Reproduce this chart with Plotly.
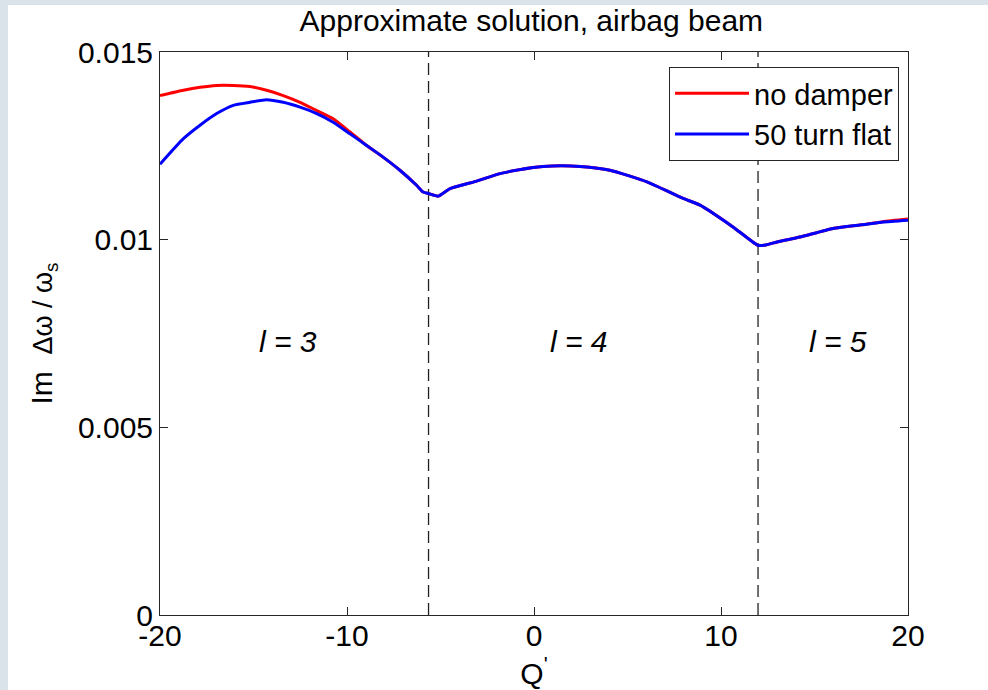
import plotly.graph_objects as go

# ---------------- data ----------------
q_blue = [-20.0, -18.75, -17.86, -16.97, -16.08, -15.19, -14.30, -13.41, -12.51, -11.62,
          -10.74, -9.84, -8.95, -8.07, -7.17, -6.28, -5.93, -5.64, -5.12, -4.49,
          -3.06, -1.82, -0.05, 0.48, 1.47, 2.46, 4.06, 6.04, 7.97, 8.88,
          10.64, 11.98, 12.40, 12.99, 14.22, 15.99, 17.77, 18.66, 20.0]
im_blue = [12.01, 12.69, 13.05, 13.36, 13.58, 13.66, 13.73, 13.66, 13.53, 13.36,
           13.13, 12.82, 12.51, 12.20, 11.85, 11.45, 11.27, 11.23, 11.16, 11.36,
           11.56, 11.76, 11.92, 11.95, 11.97, 11.95, 11.85, 11.54, 11.10, 10.92,
           10.34, 9.85, 9.86, 9.94, 10.07, 10.30, 10.41, 10.47, 10.52]

q_red = [-20.0, -18.75, -17.86, -16.97, -16.08, -15.19, -14.30, -13.41, -12.51, -11.62,
         -10.74, -9.84, -8.95, -8.07, -7.17, -6.28, -5.93, -5.64, -5.12, -4.49,
         -3.06, -1.82, -0.05, 0.48, 1.47, 2.46, 4.06, 6.04, 7.97, 8.88,
         10.64, 11.98, 12.40, 12.99, 14.22, 15.99, 17.77, 18.66, 20.0]
im_red = [13.84, 13.98, 14.06, 14.11, 14.11, 14.08, 13.98, 13.84, 13.66, 13.44,
          13.22, 12.87, 12.51, 12.20, 11.85, 11.45, 11.27, 11.23, 11.16, 11.36,
          11.56, 11.76, 11.92, 11.95, 11.97, 11.95, 11.85, 11.54, 11.10, 10.92,
          10.34, 9.85, 9.86, 9.94, 10.07, 10.30, 10.41, 10.48, 10.55]

scale = 1e-3
mode_boundaries = [-5.64, 11.98]
mode_labels = ["l = 3", "l = 4", "l = 5"]
mode_label_x = [-13.16, 2.4, 16.26]
mode_label_y = 0.00729

x_ticks = [-20, -10, 0, 10, 20]
x_tick_text = ["-20", "-10", "0", "10", "20"]
y_ticks = [0, 0.005, 0.01, 0.015]
y_tick_text = ["0", "0.005", "0.01", "0.015"]

FONT = "Liberation Sans, Arial, sans-serif"
AX = "#262626"
TXT = dict(family=FONT, size=30, color="black")

fig = go.Figure()
fig.add_trace(go.Scatter(x=q_red, y=[v * scale for v in im_red], mode="lines",
                         name="no damper",
                         line=dict(color="#ff0000", width=3, shape="spline", smoothing=0.5)))
fig.add_trace(go.Scatter(x=q_blue, y=[v * scale for v in im_blue], mode="lines",
                         name="50 turn flat",
                         line=dict(color="#0000ff", width=3, shape="spline", smoothing=0.5)))

for xb in mode_boundaries:
    fig.add_shape(type="line", xref="x", yref="y", x0=xb, x1=xb, y0=0, y1=0.015,
                  line=dict(color="#222222", width=1.3, dash="12px,6px"), layer="below")

for txt, xv in zip(mode_labels, mode_label_x):
    fig.add_annotation(x=xv, y=mode_label_y, text="<i>" + txt + "</i>", showarrow=False,
                       font=TXT)

fig.update_layout(
    width=980, height=685,
    margin=dict(l=152, r=80, t=47, b=75),
    paper_bgcolor="white", plot_bgcolor="white",
    font=TXT,
    title=dict(text="Approximate solution, airbag beam", x=0.534, xanchor="center",
               y=0.978, yanchor="middle", font=TXT),
    showlegend=True,
    legend=dict(x=0.988, y=0.9734, xanchor="right", yanchor="top",
                bgcolor="white", bordercolor=AX, borderwidth=1,
                font=dict(family=FONT, size=29, color="black"),
                itemwidth=74, tracegroupgap=0),
    xaxis=dict(range=[-20, 20], tickvals=x_ticks, ticktext=x_tick_text, ticks="inside",
               ticklen=8, tickcolor=AX, showline=True, linecolor=AX, linewidth=1,
               mirror="ticks", showgrid=False, zeroline=False, ticklabelstandoff=-6,
               tickfont=TXT,
               title=dict(text="Q<sup>'</sup>", standoff=5, font=TXT)),
    yaxis=dict(range=[0, 0.015], tickvals=y_ticks, ticktext=y_tick_text, ticks="inside",
               ticklen=8, tickcolor=AX, showline=True, linecolor=AX, linewidth=1,
               mirror="ticks", showgrid=False, zeroline=False,
               tickfont=TXT,
               title=dict(text="Im\u00a0\u00a0<span style='font-size:27px'>\u0394\u03c9 / \u03c9<sub>s</sub></span>",
                          standoff=16, font=TXT)),
)

page_css = ("document.body.style.margin='5px 0 0 8px';"
            "document.body.style.background='#dbe3ea';"
            "document.documentElement.style.background='#dbe3ea';")
fig.write_html("out.html", post_script=page_css)
